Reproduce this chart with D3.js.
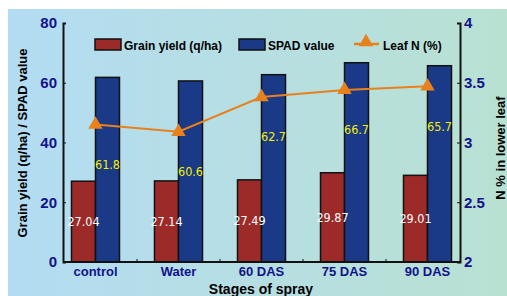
<!DOCTYPE html>
<html>
<head>
<meta charset="utf-8">
<script src="https://cdn.jsdelivr.net/npm/d3@7"></script>
<style>
  body { margin: 0; background: #fff; }
  text { font-family: "Liberation Sans", Arial, sans-serif; }
  .val { font-family: "DejaVu Sans Condensed", "DejaVu Sans", sans-serif; font-stretch: condensed; font-size: 12.5px; }
</style>
</head>
<body>
<script>
const stages = ["control", "Water", "60 DAS", "75 DAS", "90 DAS"];
const grainYield = [27.04, 27.14, 27.49, 29.87, 29.01];
const spadValue = [61.8, 60.6, 62.7, 66.7, 65.7];
const leafN = [3.15, 3.09, 3.38, 3.44, 3.47];
const leftTicks = [0, 20, 40, 60, 80];
const rightTicks = [2, 2.5, 3, 3.5, 4];

const width = 507;
const height = 296;

const svg = d3.select("body").append("svg")
  .attr("width", width)
  .attr("height", height);

// background gradient
const grad = svg.append("defs").append("linearGradient")
  .attr("id", "bg").attr("x1", "0").attr("x2", "1").attr("y1", "0").attr("y2", "0");
grad.append("stop").attr("offset", "0%").attr("stop-color", "#b3dcf3");
grad.append("stop").attr("offset", "100%").attr("stop-color", "#b9e1d2");

svg.append("rect")
  .attr("x", 8).attr("y", 9)
  .attr("width", width - 8).attr("height", height - 9)
  .attr("fill", "url(#bg)");

const x = d3.scaleBand().domain(stages).range([54, 469]);
const yL = d3.scaleLinear().domain([0, 80]).range([262, 23]);
const yR = d3.scaleLinear().domain([2, 4]).range([262, 23]);
const barW = 24;
const navy = "#12128a";

// bars
const groups = svg.selectAll("g.stage").data(stages).enter().append("g")
  .attr("class", "stage")
  .attr("transform", (d) => `translate(${x(d) + x.bandwidth() / 2}, 0)`);

groups.append("rect")
  .attr("x", -barW)
  .attr("y", (d, i) => yL(grainYield[i]))
  .attr("width", barW)
  .attr("height", (d, i) => yL(0) - yL(grainYield[i]))
  .attr("fill", "#9c2a28")
  .attr("stroke", "#111")
  .attr("stroke-width", 1.5);

groups.append("rect")
  .attr("x", 0)
  .attr("y", (d, i) => yL(spadValue[i]))
  .attr("width", barW)
  .attr("height", (d, i) => yL(0) - yL(spadValue[i]))
  .attr("fill", "#1a3a87")
  .attr("stroke", "#111")
  .attr("stroke-width", 1.5);

groups.append("text")
  .attr("class", "val")
  .text((d, i) => grainYield[i].toFixed(2))
  .attr("x", -barW / 2)
  .attr("y", (d, i) => yL(grainYield[i] / 2))
  .attr("dy", "0.35em")
  .attr("text-anchor", "middle")
  .attr("fill", "#fff");

groups.append("text")
  .attr("class", "val")
  .text((d, i) => spadValue[i].toFixed(1))
  .attr("x", barW / 2)
  .attr("y", (d, i) => yR(leafN[i]) + 40)
  .attr("dy", "0.35em")
  .attr("text-anchor", "middle")
  .attr("fill", "#f4f000");

// axes
const leftAxis = svg.append("g")
  .attr("transform", "translate(63,0)")
  .call(d3.axisRight(yL).tickValues(leftTicks).tickSize(3).tickFormat(""));
const rightAxis = svg.append("g")
  .attr("transform", "translate(460,0)")
  .call(d3.axisLeft(yR).tickValues(rightTicks).tickSize(3).tickFormat(""));
const bottomAxis = svg.append("g")
  .attr("transform", "translate(0,262)");
bottomAxis.append("line")
  .attr("x1", 63).attr("x2", 460)
  .attr("stroke", "#111").attr("stroke-width", 2);
bottomAxis.selectAll("line.tk").data(stages.slice(1)).enter().append("line")
  .attr("class", "tk")
  .attr("x1", (d) => x(d)).attr("x2", (d) => x(d))
  .attr("y1", 0).attr("y2", -3)
  .attr("stroke", "#111");

[leftAxis, rightAxis].forEach((a) => {
  a.select(".domain").attr("stroke", "#111").attr("stroke-width", 2);
  a.selectAll(".tick line").attr("stroke", "#111");
});

svg.selectAll("text.yl").data(leftTicks).enter().append("text")
  .attr("class", "yl")
  .text((d) => d)
  .attr("x", 57)
  .attr("y", (d) => yL(d))
  .attr("dy", "0.35em")
  .attr("text-anchor", "end")
  .attr("fill", navy)
  .style("font-size", "15px")
  .style("font-weight", "bold");

svg.selectAll("text.yr").data(rightTicks).enter().append("text")
  .attr("class", "yr")
  .text((d) => d)
  .attr("x", 464)
  .attr("y", (d) => yR(d))
  .attr("dy", "0.35em")
  .attr("fill", navy)
  .style("font-size", "15px")
  .style("font-weight", "bold");

svg.selectAll("text.xl").data(stages).enter().append("text")
  .attr("class", "xl")
  .text((d) => d)
  .attr("x", (d) => x(d) + x.bandwidth() / 2)
  .attr("y", 276)
  .attr("text-anchor", "middle")
  .attr("fill", navy)
  .style("font-size", "13px")
  .style("font-weight", "bold");

svg.append("text")
  .text("Stages of spray")
  .attr("x", 261).attr("y", 294)
  .attr("text-anchor", "middle")
  .style("font-size", "14px")
  .style("font-weight", "bold");

svg.append("text")
  .text("Grain yield (q/ha) / SPAD value")
  .attr("transform", "translate(27,143) rotate(-90)")
  .attr("text-anchor", "middle")
  .style("font-size", "13px")
  .style("font-weight", "bold");

svg.append("text")
  .text("N % in lower leaf")
  .attr("transform", "translate(505,148) rotate(-90)")
  .attr("text-anchor", "middle")
  .style("font-size", "13px")
  .style("font-weight", "bold");

// leaf N line
const orange = "#e8801c";
const line = d3.line()
  .x((d, i) => x(stages[i]) + x.bandwidth() / 2)
  .y((d) => yR(d));
svg.append("path")
  .datum(leafN)
  .attr("d", line)
  .attr("fill", "none")
  .attr("stroke", orange)
  .attr("stroke-width", 2);

const tri = d3.symbol().type(d3.symbolTriangle).size(90);
svg.selectAll("path.mk").data(leafN).enter().append("path")
  .attr("class", "mk")
  .attr("d", tri)
  .attr("transform", (d, i) => `translate(${x(stages[i]) + x.bandwidth() / 2},${yR(d)})`)
  .attr("fill", orange);

// legend
const legend = svg.append("g");
legend.append("rect").attr("x", 95).attr("y", 39).attr("width", 26).attr("height", 11)
  .attr("fill", "#9c2a28").attr("stroke", "#111").attr("stroke-width", 1.5);
legend.append("text").text("Grain yield (q/ha)").attr("x", 124).attr("y", 49.5)
  .style("font-size", "12px").style("font-weight", "bold");
legend.append("rect").attr("x", 239).attr("y", 39).attr("width", 26).attr("height", 11)
  .attr("fill", "#1a3a87").attr("stroke", "#111").attr("stroke-width", 1.5);
legend.append("text").text("SPAD value").attr("x", 268).attr("y", 49.5)
  .style("font-size", "12px").style("font-weight", "bold");
legend.append("line").attr("x1", 354).attr("x2", 379).attr("y1", 44).attr("y2", 44)
  .attr("stroke", orange).attr("stroke-width", 2.5);
legend.append("path").attr("d", tri).attr("transform", "translate(366,42)").attr("fill", orange);
legend.append("text").text("Leaf N (%)").attr("x", 383).attr("y", 49.5)
  .style("font-size", "12px").style("font-weight", "bold");
</script>
</body>
</html>
